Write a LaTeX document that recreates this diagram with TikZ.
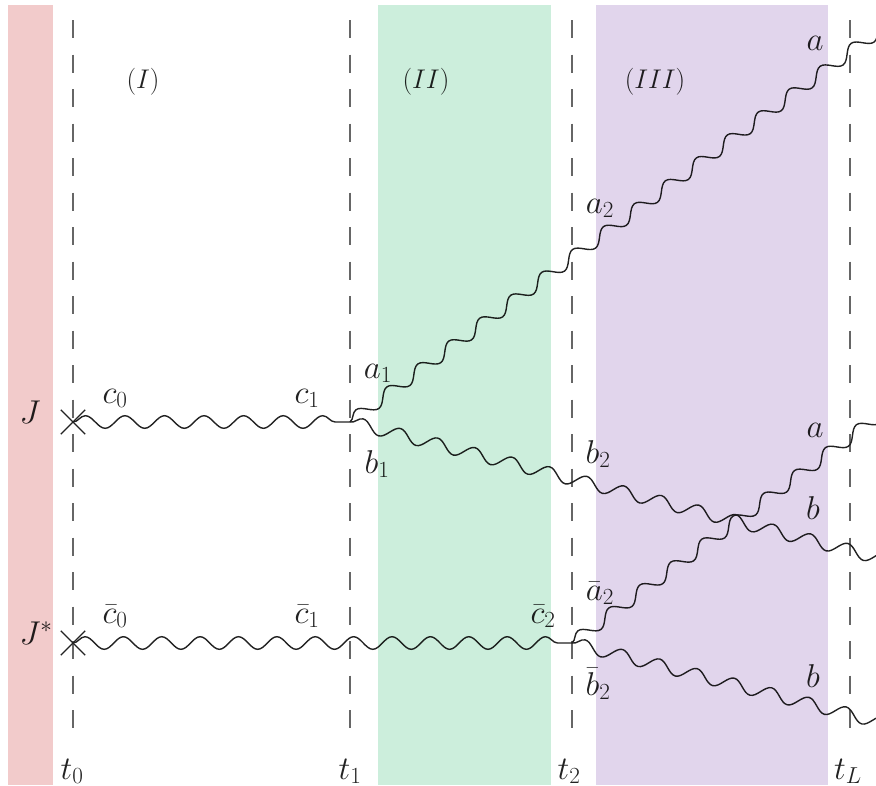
\RequirePackage{fix-cm}
\documentclass[tikz,border=0pt]{standalone}
\usetikzlibrary{decorations.pathmorphing,shapes.misc}
\definecolor{bandred}{HTML}{F2CBCB}
\definecolor{bandgreen}{HTML}{CCEEDC}
\definecolor{bandpurple}{HTML}{E1D5EC}
\definecolor{ink}{HTML}{222222}
\begin{document}
\begin{tikzpicture}[x=1pt,y=-1pt,
  wave/.style={draw=ink, line width=1.4pt, decorate,
    decoration={snake, amplitude=6.3pt, segment length=38.5pt}},
  tline/.style={draw=black!60, line width=1.1pt, dash pattern=on 18pt off 16.5pt},
  lab/.style={font=\fontsize{33}{40}\selectfont, text=ink, anchor=base, inner sep=0pt},
  reg/.style={font=\fontsize{27}{32}\selectfont, text=ink, anchor=base, inner sep=0pt},
  band/.style={blend mode=multiply},
  vertexcross/.style={draw=ink, cross out, minimum size=23pt, inner sep=0pt, line width=1.4pt}]
\useasboundingbox (0,0) rectangle (876,785);
\clip (0,0) rectangle (876,785);
% time lines
\draw[tline] (73,20) -- (73,736);
\draw[tline] (350,20) -- (350,736);
\draw[tline] (572,20) -- (572,736);
\draw[tline] (850,20) -- (850,736);
% vertices
\node[vertexcross] (v0) at (73,422) {};
\node[vertexcross] (w0) at (73,643) {};
\coordinate (v1) at (350,422);
\coordinate (w1) at (572,643);
\coordinate (ea) at (920,0.2);
\coordinate (eb) at (920,568.5);
\coordinate (ea2) at (920,385.5);
\coordinate (eb2) at (920,732.4);
% wavy lines
\draw[wave, decoration={segment length=39.57pt}] (v0.center) -- (v1);
\draw[wave, decoration={segment length=38.38pt}] (w0.center) -- (w1);
\draw[wave] (v1) -- (ea);
\draw[wave] (v1) -- (eb);
\draw[wave] (w1) -- (ea2);
\draw[wave] (w1) -- (eb2);
% region labels
\node[reg] (r1) at (143,88) {$(I)$};
\node[reg] (r2) at (426,88) {$(II)$};
\node[reg] (r3) at (655,88) {$(III)$};
% labels
\node[lab] (lJ) at (30,423) {$J$};
\node[lab] (lJs) at (36,644) {$J^*$};
\node[lab] (lc0) at (115,403) {$c_0$};
\node[lab] (lc1) at (307,403) {$c_1$};
\node[lab] (la1) at (378,378) {$a_1$};
\node[lab] (lb1) at (377,473) {$b_1$};
\node[lab] (la2) at (600,213) {$a_2$};
\node[lab] (lb2) at (598,463) {$b_2$};
\node[lab] (lcb0) at (115,623) {$\bar c_0$};
\node[lab] (lcb1) at (307,623) {$\bar c_1$};
\node[lab] (lcb2) at (543,623) {$\bar c_2$};
\node[lab] (lab2) at (600,600) {$\bar a_2$};
\node[lab] (lbb2) at (598,695) {$\bar b_2$};
\node[lab] (lau) at (815,50) {$a$};
\node[lab] (lam) at (815,437) {$a$};
\node[lab] (lbm) at (813,519) {$b$};
\node[lab] (lbl) at (813,687) {$b$};
\node[lab] (t0) at (72,779) {$t_0$};
\node[lab] (t1) at (350,779) {$t_1$};
\node[lab] (t2) at (569,779) {$t_2$};
\node[lab] (tL) at (848,779) {$t_L$};
% bands (multiplied over the drawing)
\fill[bandred, band] (8,5) rectangle (53,785);
\fill[bandgreen, band] (378,5) rectangle (551,785);
\fill[bandpurple, band] (596,5) rectangle (828,785);
\end{tikzpicture}
\end{document}
